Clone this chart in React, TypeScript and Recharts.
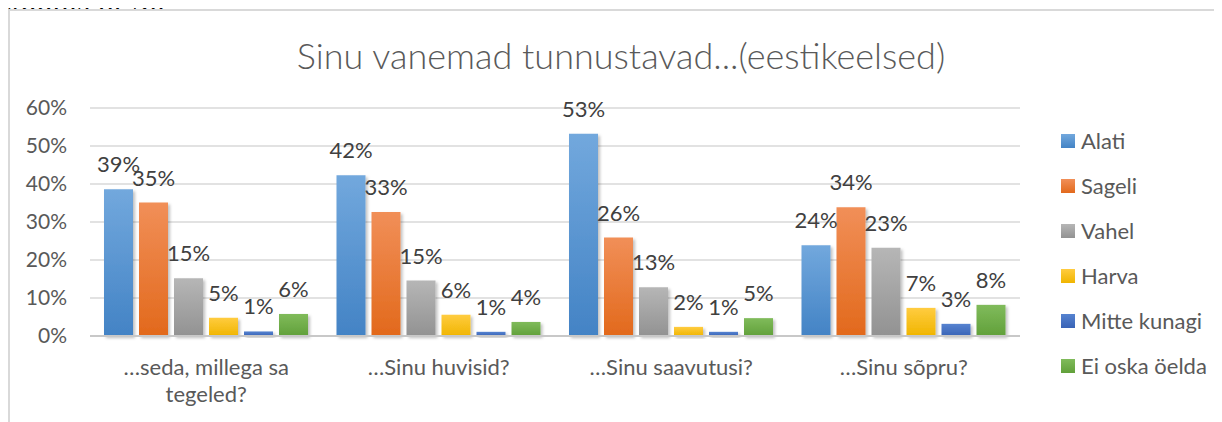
import React from 'react';
import {
  BarChart,
  Bar,
  XAxis,
  YAxis,
  CartesianGrid,
  Legend,
  LabelList
} from 'recharts';

const categories = ['…seda, millega sa tegeled?', '…Sinu huvisid?', '…Sinu saavutusi?', '…Sinu sõpru?'];
const alati = [38.6, 42.3, 53.2, 23.9];
const sageli = [35.1, 32.6, 25.9, 33.9];
const vahel = [15.2, 14.6, 12.8, 23.2];
const harva = [4.8, 5.6, 2.4, 7.4];
const mitteKunagi = [1.2, 1.1, 1.1, 3.2];
const eiOskaOelda = [5.8, 3.7, 4.7, 8.2];
const yTicks = [0, 10, 20, 30, 40, 50, 60];

const series = [
  { key: 'Alati', values: alati, top: '#72a8dd', bottom: '#4383c5' },
  { key: 'Sageli', values: sageli, top: '#f18f58', bottom: '#e2691c' },
  { key: 'Vahel', values: vahel, top: '#b6b6b6', bottom: '#929292' },
  { key: 'Harva', values: harva, top: '#ffcc40', bottom: '#f0b500' },
  { key: 'Mitte kunagi', values: mitteKunagi, top: '#5683d0', bottom: '#3963b6' },
  { key: 'Ei oska öelda', values: eiOskaOelda, top: '#80bb5b', bottom: '#61a03a' }
];

const data = categories.map((name, i) => {
  const row: any = { name };
  series.forEach(s => { row[s.key] = s.values[i]; });
  return row;
});

const FONT = 'Lato, "Noto Sans", sans-serif';

// wrap category names roughly like Excel does (about 18 chars per line)
function wrapWords(text: string, maxChars = 18) {
  const lines: string[] = [];
  let cur = '';
  text.split(' ').forEach(w => {
    const next = cur ? `${cur} ${w}` : w;
    if (next.length > maxChars && cur) {
      lines.push(cur);
      cur = w;
    } else {
      cur = next;
    }
  });
  if (cur) lines.push(cur);
  return lines;
}

const CategoryTick = (props: any) => {
  const { x, y, payload } = props;
  const lines = wrapWords(String(payload.value));
  return (
    <text x={x} y={y + 31} textAnchor="middle" fill="#595959" fontSize={22} fontFamily={FONT}>
      {lines.map((line, i) => (
        <tspan key={i} x={x} dy={i === 0 ? 0 : 27}>{line}</tspan>
      ))}
    </text>
  );
};

const LegendBox = () => (
  <div style={{ fontFamily: FONT, fontSize: 22, color: '#595959' }}>
    {series.map(s => (
      <div key={s.key} style={{ display: 'flex', alignItems: 'center', height: 45 }}>
        <span style={{ width: 14, height: 14, background: `linear-gradient(${s.top}, ${s.bottom})`, marginRight: 6 }} />
        <span>{s.key}</span>
      </div>
    ))}
  </div>
);

export default function App() {
  return (
    <div style={{ position: 'relative', width: 1214, height: 414 }}>
      <div
        style={{
          position: 'absolute',
          left: 0,
          top: -23,
          fontFamily: '"Liberation Serif", serif',
          fontSize: 32,
          lineHeight: '30px',
          whiteSpace: 'nowrap',
          color: '#000'
        }}
      >
        Joonis nr 36
      </div>
      <div
        style={{
          position: 'absolute',
          left: 0,
          top: 1,
          width: 1214,
          height: 413,
          borderLeft: '2px solid #d9d9d9',
          borderTop: '2px solid #d9d9d9',
          boxSizing: 'border-box'
        }}
      />
      <div
        style={{
          position: 'absolute',
          left: 0,
          top: 25,
          width: 1226,
          textAlign: 'center',
          fontFamily: FONT,
          fontWeight: 300,
          fontSize: 36,
          color: '#595959',
          zIndex: 1
        }}
      >
        Sinu vanemad tunnustavad...(eestikeelsed)
      </div>
      <div style={{ position: 'absolute', left: 0, top: 0 }}>
        <BarChart
          width={1214}
          height={414}
          data={data}
          margin={{ top: 100, right: 202, bottom: 26, left: 0 }}
          barCategoryGap={14}
          barGap={6}
        >
          <defs>
            {series.map((s, i) => (
              <linearGradient key={s.key} id={`grad${i}`} x1="0" y1="0" x2="0" y2="1">
                <stop offset="0%" stopColor={s.top} />
                <stop offset="100%" stopColor={s.bottom} />
              </linearGradient>
            ))}
            <filter id="barShadow" x="-20%" y="-20%" width="150%" height="150%">
              <feDropShadow dx="2" dy="2" stdDeviation="1.5" floodColor="#000" floodOpacity="0.25" />
            </filter>
          </defs>
          <CartesianGrid vertical={false} stroke="#d9d9d9" strokeWidth={1.5} />
          <XAxis
            dataKey="name"
            axisLine={{ stroke: '#c8c8c8', strokeWidth: 2 }}
            tickLine={false}
            height={60}
            interval={0}
            tick={<CategoryTick />}
          />
          <YAxis
            domain={[0, 60]}
            ticks={yTicks}
            tickFormatter={(v: number) => `${v}%`}
            axisLine={false}
            tickLine={false}
            width={82}
            tickMargin={17}
            tick={{ fill: '#595959', fontSize: 21, fontFamily: FONT }}
          />
          <Legend
            layout="vertical"
            align="center"
            verticalAlign="middle"
            content={<LegendBox />}
            wrapperStyle={{ left: 1053, top: 110, width: 170 }}
          />
          {series.map((s, i) => (
            <Bar
              key={s.key}
              dataKey={s.key}
              fill={`url(#grad${i})`}
              filter="url(#barShadow)"
              isAnimationActive={false}
            >
              <LabelList
                dataKey={s.key}
                position="top"
                offset={17}
                formatter={(v: any) => `${Math.round(v)}%`}
                fill="#404040"
                fontSize={22}
                fontFamily={FONT}
              />
            </Bar>
          ))}
        </BarChart>
      </div>
    </div>
  );
}
